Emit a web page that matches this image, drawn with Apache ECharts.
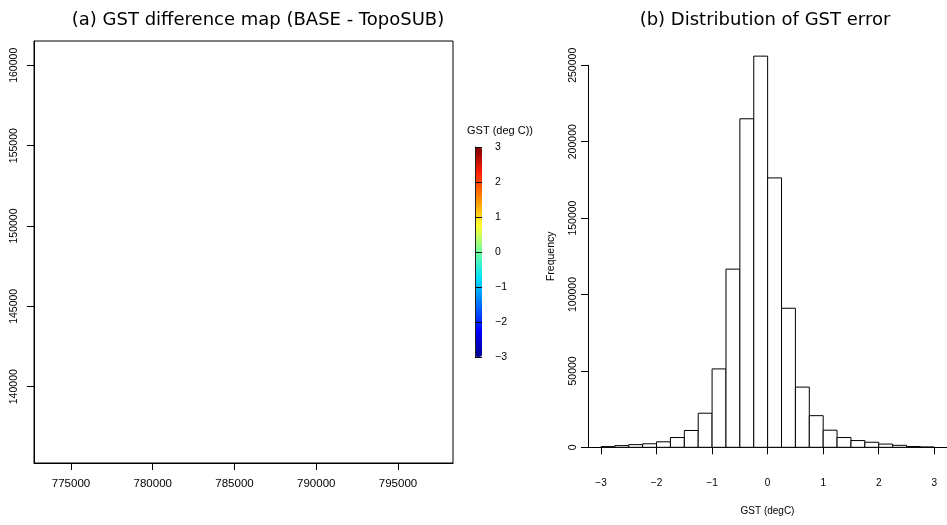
<!DOCTYPE html>
<html>
<head>
<meta charset="utf-8">
<script src="https://cdn.jsdelivr.net/npm/echarts@6/dist/echarts.min.js"></script>
<style>
html,body{margin:0;padding:0;background:#fff;}
#main{width:947px;height:525px;}
</style>
</head>
<body>
<div id="main"></div>
<script>
// ---- data ----
var mapXTicks = [775000, 780000, 785000, 790000, 795000];
var mapYTicks = [140000, 145000, 150000, 155000, 160000];
var colorbarTicks = [-3, -2, -1, 0, 1, 2, 3];
var jetColors = ['#00008F', '#0000FF', '#0070FF', '#00E0FF', '#70FFA0', '#FFFF30', '#FF9000', '#FF2000', '#800000'];
var binStart = [-3, -2.75, -2.5, -2.25, -2, -1.75, -1.5, -1.25, -1, -0.75, -0.5, -0.25, 0, 0.25, 0.5, 0.75, 1, 1.25, 1.5, 1.75, 2, 2.25, 2.5, 2.75];
var binEnd = [-2.75, -2.5, -2.25, -2, -1.75, -1.5, -1.25, -1, -0.75, -0.5, -0.25, 0, 0.25, 0.5, 0.75, 1, 1.25, 1.5, 1.75, 2, 2.25, 2.5, 2.75, 3];
var counts = [450, 1100, 1750, 2300, 3600, 6400, 11000, 22300, 51300, 116600, 215000, 256000, 176300, 91000, 39400, 20700, 11200, 6400, 4400, 3300, 2100, 1300, 500, 200];
var histXTicks = [-3, -2, -1, 0, 1, 2, 3];

var histData = binStart.map(function (s, i) { return [s, binEnd[i], counts[i]]; });
var minus = function (v) { return String(v).replace('-', '\u2212'); };
var plain = function (v) { return String(v); };
var LAB = 'Liberation Sans';
var chart = echarts.init(document.getElementById('main'), null, {renderer: 'canvas'});

chart.setOption({
  animation: false,
  backgroundColor: '#fff',
  graphic: [
    {type: 'text', style: {text: '(a) GST difference map (BASE - TopoSUB)', x: 258, y: 20, textAlign: 'center', textVerticalAlign: 'middle', font: '18px "DejaVu Sans"', fill: '#000'}},
    {type: 'text', style: {text: '(b) Distribution of GST error', x: 765, y: 20, textAlign: 'center', textVerticalAlign: 'middle', font: '18px "DejaVu Sans"', fill: '#000'}},
    {type: 'text', style: {text: 'GST (deg C))', x: 500, y: 131, textAlign: 'center', textVerticalAlign: 'middle', font: '11px "Liberation Sans"', fill: '#000'}}
  ],
  grid: [
    {left: 34, top: 41, width: 419, height: 422, show: true, borderColor: '#000', borderWidth: 1, backgroundColor: 'transparent'},
    {left: 588, top: 41, width: 359, height: 422},
    {left: 475, top: 147, width: 7, height: 210},
    {left: 588, top: 65.3, width: 100, height: 382}
  ],
  xAxis: [
    {gridIndex: 0, type: 'value', min: 772737, max: 798364,
      axisLine: {show: true, lineStyle: {color: '#000', width: 1}},
      axisTick: {show: true, length: 7, inside: false, customValues: mapXTicks, lineStyle: {color: '#000'}},
      axisLabel: {show: true, customValues: mapXTicks, margin: 15, fontSize: 11.5, fontFamily: LAB, color: '#000', formatter: plain},
      splitLine: {show: false}},
    {gridIndex: 1, type: 'value', min: -3.234, max: 3.229,
      name: 'GST (degC)', nameLocation: 'middle', nameGap: 43,
      nameTextStyle: {fontSize: 10, fontFamily: LAB, color: '#000'},
      axisLine: {show: true, lineStyle: {color: '#000', width: 1}},
      axisTick: {show: true, length: 7, customValues: histXTicks, lineStyle: {color: '#000'}},
      axisLabel: {show: true, customValues: histXTicks, margin: 15, fontSize: 10, fontFamily: LAB, color: '#000', formatter: minus},
      splitLine: {show: false}},
    {gridIndex: 2, type: 'value', min: 0, max: 1, show: false},
    {gridIndex: 3, type: 'value', min: 0, max: 1, show: false}
  ],
  yAxis: [
    {gridIndex: 0, type: 'value', min: 135252, max: 161512,
      axisLine: {show: true, lineStyle: {color: '#000', width: 1}},
      axisTick: {show: true, length: 7, customValues: mapYTicks, lineStyle: {color: '#000'}},
      axisLabel: {show: true, customValues: mapYTicks, rotate: 90, margin: 14, fontSize: 10.5, fontFamily: LAB, color: '#000', formatter: plain},
      splitLine: {show: false}},
    {gridIndex: 1, type: 'value', min: -10275, max: 265900, show: false},
    {gridIndex: 2, type: 'value', min: -3, max: 3, interval: 1, position: 'right', z: 6,
      axisLine: {show: true, lineStyle: {color: '#222', width: 1}},
      axisTick: {show: true, length: 7, lineStyle: {color: '#000'}},
      axisLabel: {show: true, margin: 13, fontSize: 10.5, fontFamily: LAB, color: '#000', formatter: minus},
      splitLine: {show: false}},
    {gridIndex: 3, type: 'value', min: 0, max: 250000, interval: 50000,
      name: 'Frequency', nameLocation: 'middle', nameRotate: 90, nameGap: 31,
      nameTextStyle: {fontSize: 10.5, fontFamily: LAB, color: '#000'},
      axisLine: {show: true, lineStyle: {color: '#000', width: 1}},
      axisTick: {show: true, length: 7, lineStyle: {color: '#000'}},
      axisLabel: {show: true, rotate: 90, margin: 9.5, fontSize: 10.5, fontFamily: LAB, color: '#000', formatter: plain},
      splitLine: {show: false}}
  ],
  visualMap: [{
    type: 'continuous', min: -3, max: 3, seriesIndex: 0, orient: 'vertical',
    left: 475, top: 147, itemWidth: 7, itemHeight: 210, padding: 0,
    calculable: false, hoverLink: false, z: 2,
    inRange: {color: jetColors}
  }],
  series: [
    {type: 'scatter', xAxisIndex: 0, yAxisIndex: 0, data: [], symbolSize: 0},
    {type: 'custom', xAxisIndex: 1, yAxisIndex: 1, data: histData,
      encode: {x: [0, 1], y: 2},
      renderItem: function (params, api) {
        var p0 = api.coord([api.value(0), api.value(2)]);
        var p1 = api.coord([api.value(1), 0]);
        return {type: 'rect', shape: {x: p0[0], y: p0[1], width: p1[0] - p0[0], height: p1[1] - p0[1]},
          style: {fill: '#fff', stroke: '#000', lineWidth: 1}};
      }}
  ]
});
</script>
</body>
</html>
